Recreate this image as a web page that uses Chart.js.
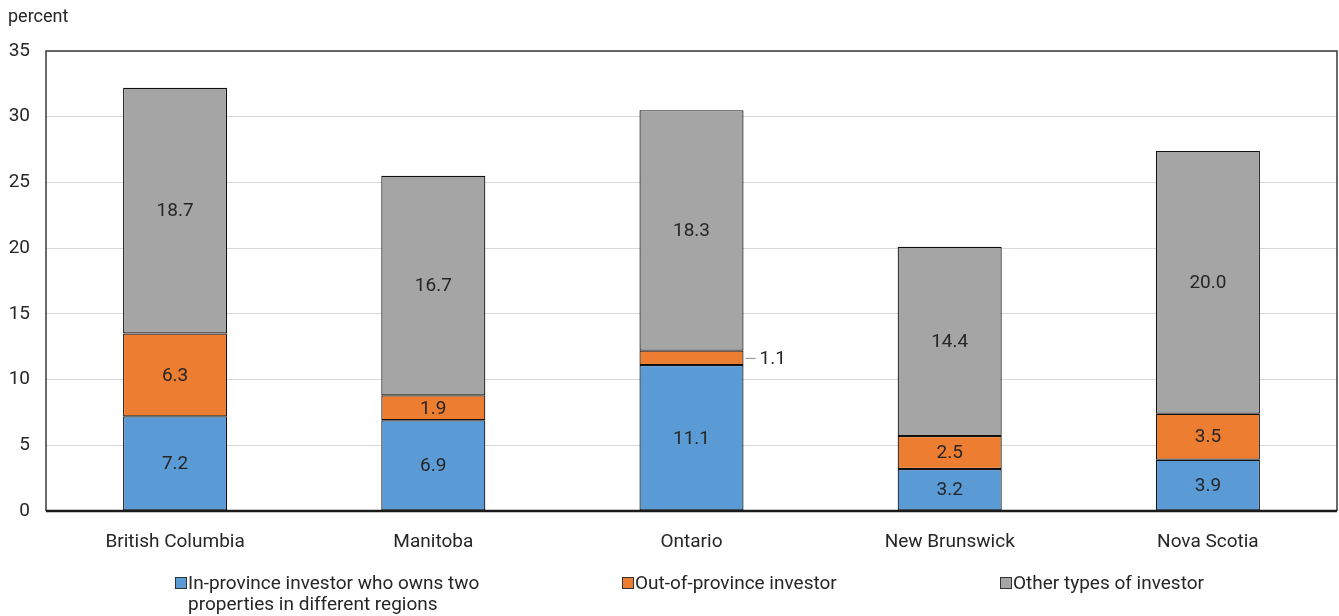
<!DOCTYPE html>
<html>
<head>
<meta charset="utf-8">
<script src="https://cdn.jsdelivr.net/npm/chart.js@4"></script>
<style>
  html, body { margin: 0; padding: 0; background: #fff; }
  #wrap { position: relative; width: 1339px; height: 616px; }
  #legend { position: absolute; top: 572px; left: 0; width: 1339px; font-family: Roboto, sans-serif; font-size: 19px; color: #262626; line-height: 21px; }
  .item { position: absolute; top: 0; }
  .box { position: absolute; left: 0; top: 5px; width: 10px; height: 10px; border: 1px solid #333; }
  .txt { margin-left: 13px; }
</style>
</head>
<body>
<div id="wrap">
  <canvas id="chart" width="1339" height="616"></canvas>
  <div id="legend"></div>
</div>
<script>
const provinces = ['British Columbia', 'Manitoba', 'Ontario', 'New Brunswick', 'Nova Scotia'];
const inProvince = [7.2, 6.9, 11.1, 3.2, 3.9];
const outOfProvince = [6.3, 1.9, 1.1, 2.5, 3.5];
const otherTypes = [18.7, 16.7, 18.3, 14.4, 20.0];
const yTicks = [0, 5, 10, 15, 20, 25, 30, 35];

const FONT = 'Roboto, sans-serif';
const TEXT = '#262626';

const series = [
    { label: 'In-province investor who owns two\nproperties in different regions', data: inProvince, color: '#5B9BD5', left: 175 },
    { label: 'Out-of-province investor', data: outOfProvince, color: '#ED7D31', left: 622 },
    { label: 'Other types of investor', data: otherTypes, color: '#A5A5A5', left: 1000 }
];

// Values written inside each segment; small ones get a leader line to the right
const segmentLabels = {
    id: 'segmentLabels',
    afterDatasetsDraw(chart) {
        const ctx = chart.ctx;
        ctx.save();
        ctx.font = '19px ' + FONT;
        ctx.fillStyle = TEXT;
        ctx.textBaseline = 'middle';
        chart.data.datasets.forEach((ds, di) => {
            chart.getDatasetMeta(di).data.forEach((bar, i) => {
                const v = ds.data[i];
                const y = (bar.y + bar.base) / 2;
                const txt = v.toFixed(1);
                if (v < 1.5) {
                    const x = bar.x + bar.width / 2;
                    ctx.strokeStyle = '#888';
                    ctx.lineWidth = 1;
                    ctx.beginPath();
                    ctx.moveTo(x + 2, y + 0.5);
                    ctx.lineTo(x + 12, y + 0.5);
                    ctx.stroke();
                    ctx.textAlign = 'left';
                    ctx.fillText(txt, x + 16, y + 1);
                } else {
                    ctx.textAlign = 'center';
                    ctx.fillText(txt, bar.x, y + 1);
                }
            });
        });
        ctx.restore();
    }
};

// Frame around the plot area, heavier baseline, and the unit label
const frame = {
    id: 'frame',
    afterDraw(chart) {
        const { ctx, chartArea: a } = chart;
        ctx.save();
        ctx.strokeStyle = '#3a3a3a';
        ctx.lineWidth = 1.5;
        ctx.beginPath();
        ctx.moveTo(a.left, a.bottom);
        ctx.lineTo(a.left, a.top);
        ctx.lineTo(a.right, a.top);
        ctx.lineTo(a.right, a.bottom);
        ctx.stroke();
        ctx.strokeStyle = '#1a1a1a';
        ctx.lineWidth = 2.5;
        ctx.beginPath();
        ctx.moveTo(a.left, a.bottom);
        ctx.lineTo(a.right, a.bottom);
        ctx.stroke();
        ctx.font = '18px ' + FONT;
        ctx.fillStyle = TEXT;
        ctx.textAlign = 'left';
        ctx.textBaseline = 'middle';
        ctx.fillText('percent', 8, 17);
        ctx.restore();
    }
};

new Chart(document.getElementById('chart'), {
    type: 'bar',
    data: {
        labels: provinces,
        datasets: series.map(s => ({
            label: s.label,
            data: s.data,
            backgroundColor: s.color,
            borderColor: '#111',
            borderWidth: 1.2,
            borderSkipped: false,
            categoryPercentage: 1,
            barPercentage: 0.403
        }))
    },
    options: {
        responsive: false,
        animation: false,
        layout: { padding: { top: 51, left: 0, right: 2, bottom: 55 } },
        plugins: {
            legend: { display: false },
            tooltip: { enabled: false }
        },
        scales: {
            x: {
                stacked: true,
                clip: false,
                grid: { display: false },
                border: { display: false },
                ticks: { font: { family: FONT, size: 19 }, color: TEXT, padding: 12 },
                afterFit(scale) { scale.height = 50; }
            },
            y: {
                stacked: true,
                min: 0,
                max: 35,
                clip: false,
                afterBuildTicks(scale) { scale.ticks = yTicks.map(v => ({ value: v })); },
                grid: { color: '#d9d9d9', drawTicks: false },
                border: { display: false },
                ticks: { font: { family: FONT, size: 19 }, color: TEXT, padding: 16 },
                afterFit(scale) { scale.width = 46; }
            }
        }
    },
    plugins: [segmentLabels, frame]
});

// Legend below the chart
const legend = document.getElementById('legend');
series.forEach(s => {
    const item = document.createElement('div');
    item.className = 'item';
    item.style.left = s.left + 'px';
    item.innerHTML = '<span class="box" style="background:' + s.color + '"></span><div class="txt">' +
        s.label.replace('\n', '<br>') + '</div>';
    legend.appendChild(item);
});
</script>
</body>
</html>
